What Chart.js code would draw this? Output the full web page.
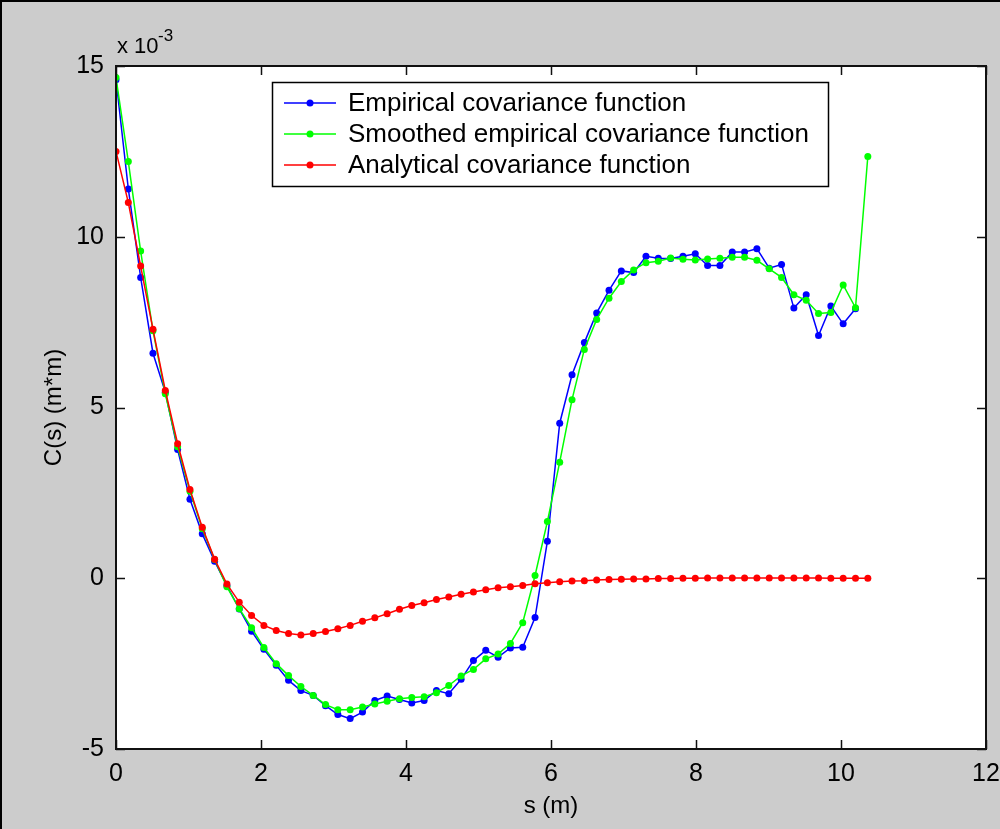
<!DOCTYPE html>
<html>
<head>
<meta charset="utf-8">
<script src="https://cdn.jsdelivr.net/npm/chart.js@4.4.1/dist/chart.umd.min.js"></script>
<style>
  html, body { margin: 0; padding: 0; background: #cccccc; }
  #wrap { position: relative; width: 1000px; height: 829px; }
  #frame { position: absolute; left: 0; top: 0; width: 1000px; height: 829px;
           box-sizing: border-box; border-left: 2px solid #000; border-top: 2px solid #000;
           pointer-events: none; }
</style>
</head>
<body>
<div id="wrap">
  <canvas id="chart" width="1000" height="829"></canvas>
  <div id="frame"></div>
</div>
<script>
// Covariance functions, values in units of 1e-3 m*m

// lag distances s (m)
const lags = [
  0.00, 0.17, 0.34, 0.51, 0.68, 0.85, 1.02, 1.19, 1.36, 1.53,
  1.70, 1.87, 2.04, 2.21, 2.38, 2.55, 2.72, 2.89, 3.06, 3.23,
  3.40, 3.57, 3.74, 3.91, 4.08, 4.25, 4.42, 4.59, 4.76, 4.93,
  5.10, 5.27, 5.44, 5.61, 5.78, 5.95, 6.12, 6.29, 6.46, 6.63,
  6.80, 6.97, 7.14, 7.31, 7.48, 7.65, 7.82, 7.99, 8.16, 8.33,
  8.50, 8.67, 8.84, 9.01, 9.18, 9.35, 9.52, 9.69, 9.86, 10.03,
  10.20, 10.37
];

const empirical = [
  14.6, 11.4, 8.81, 6.59, 5.45, 3.77, 2.31, 1.30, 0.50, -0.22,
  -0.90, -1.55, -2.08, -2.55, -2.99, -3.29, -3.43, -3.73, -3.99, -4.11,
  -3.92, -3.58, -3.45, -3.55, -3.65, -3.58, -3.29, -3.38, -2.96, -2.41,
  -2.11, -2.31, -2.04, -2.02, -1.15, 1.08, 4.54, 5.96, 6.90, 7.77,
  8.43, 9.00, 8.95, 9.43, 9.37, 9.36, 9.43, 9.50, 9.16, 9.16,
  9.55, 9.55, 9.65, 9.08, 9.19, 7.91, 8.30, 7.11, 7.97, 7.45,
  7.89
];

const smoothed = [
  14.66, 12.2, 9.58, 7.25, 5.40, 3.85, 2.55, 1.45, 0.55, -0.25,
  -0.89, -1.45, -2.03, -2.50, -2.85, -3.17, -3.43, -3.70, -3.85, -3.85,
  -3.77, -3.68, -3.60, -3.53, -3.49, -3.47, -3.35, -3.14, -2.86, -2.67,
  -2.36, -2.22, -1.91, -1.30, 0.08, 1.66, 3.40, 5.23, 6.70, 7.58,
  8.20, 8.69, 9.03, 9.24, 9.28, 9.38, 9.34, 9.32, 9.35, 9.37,
  9.40, 9.40, 9.31, 9.06, 8.81, 8.30, 8.14, 7.75, 7.78, 8.59,
  7.92, 12.35
];

const analytical = [
  12.5, 11.0, 9.14, 7.29, 5.50, 3.94, 2.60, 1.49, 0.56, -0.17,
  -0.70, -1.09, -1.38, -1.53, -1.62, -1.66, -1.62, -1.56, -1.48, -1.38,
  -1.26, -1.16, -1.04, -0.91, -0.80, -0.72, -0.62, -0.55, -0.47, -0.40,
  -0.34, -0.28, -0.25, -0.21, -0.16, -0.13, -0.10, -0.08, -0.07, -0.05,
  -0.04, -0.03, -0.02, -0.02, -0.01, -0.01, 0.00, 0.00, 0.01, 0.01,
  0.01, 0.01, 0.01, 0.01, 0.01, 0.01, 0.01, 0.01, 0.00, 0.00,
  0.00, 0.00
];

const seriesNames = [
  "Empirical covariance function",
  "Smoothed empirical covariance function",
  "Analytical covariance function"
];
const seriesColors = ["#0000ff", "#00ff00", "#ff0000"];

const xTicks = [0, 2, 4, 6, 8, 10, 12];
const yTicks = [-5, 0, 5, 10, 15];

const TICK_FONT = { family: "'Liberation Sans Narrow', 'Liberation Sans', Arial, sans-serif", size: 25 };
const TEXT_FONT = "'Liberation Sans', Arial, sans-serif";

const pts = (ys) => ys.map((y, i) => ({ x: lags[i], y }));

function makeSet(idx, data, order) {
  return {
    label: seriesNames[idx],
    data: pts(data),
    borderColor: seriesColors[idx],
    backgroundColor: seriesColors[idx],
    borderWidth: 1.5,
    pointRadius: 3.5,
    pointBorderWidth: 0,
    pointHoverRadius: 3.5,
    tension: 0,
    order
  };
}

// draws the white axes box, inward ticks, frame, legend box and exponent
const matlabLook = {
  id: "matlabLook",
  beforeDraw(chart) {
    const { ctx, chartArea: a } = chart;
    ctx.save();
    ctx.fillStyle = "#cccccc";
    ctx.fillRect(0, 0, chart.width, chart.height);
    ctx.fillStyle = "#ffffff";
    ctx.fillRect(a.left, a.top, a.right - a.left, a.bottom - a.top);
    ctx.restore();
  },
  afterDatasetsDraw(chart) {
    const { ctx, chartArea: a, scales } = chart;
    const tl = 9;
    ctx.save();
    ctx.strokeStyle = "#111";
    ctx.lineWidth = 1.5;
    ctx.beginPath();
    for (const v of xTicks) {
      const px = Math.round(scales.x.getPixelForValue(v)) + 0.5;
      ctx.moveTo(px, a.bottom); ctx.lineTo(px, a.bottom - tl);
      ctx.moveTo(px, a.top); ctx.lineTo(px, a.top + tl);
    }
    for (const v of yTicks) {
      const py = Math.round(scales.y.getPixelForValue(v)) + 0.5;
      ctx.moveTo(a.left, py); ctx.lineTo(a.left + tl, py);
      ctx.moveTo(a.right, py); ctx.lineTo(a.right - tl, py);
    }
    ctx.stroke();
    ctx.lineWidth = 2;
    ctx.strokeRect(a.left, a.top, a.right - a.left, a.bottom - a.top);

    // legend
    const lx = 272, ly = 82, lw = 556, lh = 104;
    ctx.fillStyle = "#fff";
    ctx.fillRect(lx, ly, lw, lh);
    ctx.lineWidth = 1.5;
    ctx.strokeStyle = "#000";
    ctx.strokeRect(lx + 0.5, ly + 0.5, lw, lh);
    ctx.font = "26px " + TEXT_FONT;
    ctx.textBaseline = "middle";
    seriesNames.forEach((name, i) => {
      const y = ly + 21 + i * 31;
      ctx.strokeStyle = seriesColors[i];
      ctx.fillStyle = seriesColors[i];
      ctx.lineWidth = 1.5;
      ctx.beginPath();
      ctx.moveTo(lx + 12, y); ctx.lineTo(lx + 64, y);
      ctx.stroke();
      ctx.beginPath();
      ctx.arc(lx + 38, y, 3.5, 0, Math.PI * 2);
      ctx.fill();
      ctx.fillStyle = "#000";
      ctx.fillText(name, lx + 76, y + 1);
    });

    // exponent label
    ctx.fillStyle = "#000";
    ctx.textBaseline = "alphabetic";
    ctx.font = "22px " + TICK_FONT.family;
    ctx.fillText("x 10", 117, 53);
    ctx.font = "17px " + TICK_FONT.family;
    ctx.fillText("-3", 158, 41);
    ctx.restore();
  }
};

new Chart(document.getElementById("chart"), {
  type: "line",
  data: {
    datasets: [
      makeSet(0, empirical, 3),
      makeSet(1, smoothed, 2),
      makeSet(2, analytical, 1)
    ]
  },
  options: {
    responsive: false,
    animation: false,
    events: [],
    layout: { padding: { left: 0, top: 66, right: 14, bottom: 0 } },
    plugins: { legend: { display: false }, tooltip: { enabled: false } },
    scales: {
      x: {
        type: "linear",
        min: 0, max: 12,
        afterBuildTicks: (s) => { s.ticks = xTicks.map(v => ({ value: v })); },
        afterFit: (s) => { s.height = 80; s.paddingLeft = 0; s.paddingRight = 0; },
        grid: { display: false, drawTicks: false },
        border: { display: false },
        ticks: { color: "#000", font: TICK_FONT, padding: 10, maxRotation: 0 },
        title: { display: true, text: "s (m)", color: "#000",
                 font: { family: TEXT_FONT, size: 24 }, padding: { top: 6, bottom: 8 } }
      },
      y: {
        type: "linear",
        min: -5, max: 15,
        afterBuildTicks: (s) => { s.ticks = yTicks.map(v => ({ value: v })); },
        afterFit: (s) => { s.width = 116; s.paddingTop = 0; s.paddingBottom = 0; },
        grid: { display: false, drawTicks: false },
        border: { display: false },
        ticks: { color: "#000", font: TICK_FONT, padding: 12 },
        title: { display: true, text: "C(s) (m*m)", color: "#000",
                 font: { family: TEXT_FONT, size: 24 }, padding: { top: 40, bottom: 40 } }
      }
    }
  },
  plugins: [matlabLook]
});
</script>
</body>
</html>
